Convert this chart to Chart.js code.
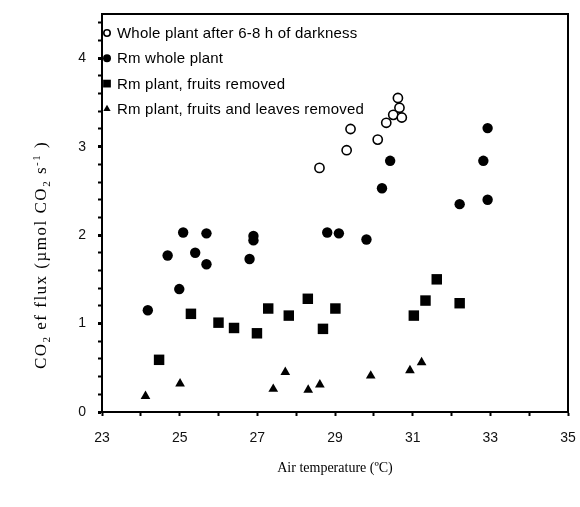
<!DOCTYPE html>
<html>
<head>
<meta charset="utf-8">
<script src="https://cdn.jsdelivr.net/npm/chart.js@4.4.1/dist/chart.umd.min.js"></script>
<style>
html,body{margin:0;padding:0;background:#fff;}
#wrap{width:580px;height:507px;}
</style>
</head>
<body>
<div id="wrap"><canvas id="c" width="580" height="507"></canvas></div>
<script>
// ---- data ----
const seriesLabels = [
  "Whole plant after 6-8 h of darkness",
  "Rm whole plant",
  "Rm plant, fruits removed",
  "Rm plant, fruits and leaves removed"
];
const darkX = [28.6, 29.3, 29.4, 30.1, 30.32, 30.5, 30.72, 30.66, 30.62];
const darkY = [2.76, 2.96, 3.20, 3.08, 3.27, 3.36, 3.33, 3.44, 3.55];

const wholeX = [24.18, 24.69, 24.99, 25.09, 25.40, 25.69, 25.69, 26.80, 26.90, 26.90, 28.80, 29.10, 29.81, 30.21, 30.42, 32.21, 32.82, 32.93, 32.93];
const wholeY = [1.15, 1.77, 1.39, 2.03, 1.80, 2.02, 1.67, 1.73, 1.94, 1.99, 2.03, 2.02, 1.95, 2.53, 2.84, 2.35, 2.84, 3.21, 2.40];

const fruitX = [24.47, 25.29, 26.00, 26.40, 26.99, 27.28, 27.81, 28.30, 28.69, 29.01, 31.03, 31.33, 31.62, 32.21];
const fruitY = [0.59, 1.11, 1.01, 0.95, 0.89, 1.17, 1.09, 1.28, 0.94, 1.17, 1.09, 1.26, 1.50, 1.23];

const leafX = [24.12, 25.01, 27.41, 27.72, 28.31, 28.61, 29.92, 30.93, 31.23];
const leafY = [0.18, 0.32, 0.26, 0.45, 0.25, 0.31, 0.41, 0.47, 0.56];

const xTickLabels = [23, 25, 27, 29, 31, 33, 35];
const yTickLabels = [0, 1, 2, 3, 4];

const xTitle = "Air temperature (ºC)";
// y title pieces: [text, mode]
const yTitleParts = [["CO", "n"], ["2", "sub"], [" ef flux (µmol CO", "n"], ["2", "sub"], [" s", "n"], ["-1", "sup"], [" )", "n"]];

function pts(xs, ys) { return xs.map((x, i) => ({ x: x, y: ys[i] })); }

const datasets = [
  { label: seriesLabels[0], data: pts(darkX, darkY), pointStyle: 'circle', pointRadius: 4.6, pointBorderWidth: 1.6,
    backgroundColor: '#fff', borderColor: '#000', legendRadius: 3.2 },
  { label: seriesLabels[1], data: pts(wholeX, wholeY), pointStyle: 'circle', pointRadius: 5.2, pointBorderWidth: 0,
    backgroundColor: '#000', borderColor: '#000', legendRadius: 4 },
  { label: seriesLabels[2], data: pts(fruitX, fruitY), pointStyle: 'rect', pointRadius: 7.4, pointBorderWidth: 0,
    backgroundColor: '#000', borderColor: '#000', legendRadius: 5.5 },
  { label: seriesLabels[3], data: pts(leafX, leafY), pointStyle: 'triangle', pointRadius: 5.6, pointBorderWidth: 0,
    backgroundColor: '#000', borderColor: '#000', legendRadius: 4.2 }
];
datasets.forEach(d => { d.showLine = false; d.pointHoverRadius = d.pointRadius; });

const isInt = v => Math.abs(v - Math.round(v)) < 1e-6;

const decor = {
  id: 'decor',
  afterDraw(chart) {
    const ctx = chart.ctx;
    const a = chart.chartArea;
    ctx.save();
    // frame top & right
    ctx.strokeStyle = '#000';
    ctx.lineWidth = 2;
    ctx.beginPath();
    ctx.moveTo(a.left, a.top);
    ctx.lineTo(a.right, a.top);
    ctx.lineTo(a.right, a.bottom);
    ctx.stroke();

    // legend
    const lx = 107, ly0 = 33, lstep = 25.3;
    ctx.font = '15px "Liberation Sans", Arial, sans-serif';
    ctx.textBaseline = 'middle';
    ctx.textAlign = 'left';
    chart.data.datasets.forEach((d, i) => {
      const y = ly0 + i * lstep;
      ctx.fillStyle = d.backgroundColor;
      ctx.strokeStyle = d.borderColor;
      ctx.lineWidth = d.pointBorderWidth;
      Chart.helpers.drawPoint(ctx, { pointStyle: d.pointStyle, radius: d.legendRadius, rotation: 0, borderWidth: d.pointBorderWidth }, lx, y);
      ctx.fillStyle = '#000';
      if ('letterSpacing' in ctx) ctx.letterSpacing = '0.2px';
      ctx.fillText(d.label, 117, y + 1);
      if ('letterSpacing' in ctx) ctx.letterSpacing = '0px';
    });

    // x title
    ctx.font = '14px "Liberation Serif", "Times New Roman", serif';
    ctx.textAlign = 'center';
    ctx.textBaseline = 'alphabetic';
    ctx.fillStyle = '#000';
    ctx.fillText(xTitle, (a.left + a.right) / 2, 472);

    // y title
    const fN = '17px "Liberation Serif", "Times New Roman", serif';
    const fS = '11px "Liberation Serif", "Times New Roman", serif';
    if ('letterSpacing' in ctx) ctx.letterSpacing = '1.5px';
    let total = 0;
    yTitleParts.forEach(p => { ctx.font = p[1] === 'n' ? fN : fS; total += ctx.measureText(p[0]).width; });
    ctx.translate(46, 255);
    ctx.rotate(-Math.PI / 2);
    ctx.textAlign = 'left';
    let x = -total / 2;
    yTitleParts.forEach(p => {
      ctx.font = p[1] === 'n' ? fN : fS;
      const dy = p[1] === 'sub' ? 4 : (p[1] === 'sup' ? -6 : 0);
      ctx.fillText(p[0], x, dy);
      x += ctx.measureText(p[0]).width;
    });
    ctx.restore();
  }
};

new Chart(document.getElementById('c'), {
  type: 'scatter',
  data: { datasets: datasets },
  plugins: [decor],
  options: {
    responsive: false,
    animation: false,
    devicePixelRatio: 1,
    layout: { padding: { left: 0, right: 12, top: 14, bottom: 0 } },
    plugins: { legend: { display: false }, tooltip: { enabled: false } },
    scales: {
      x: {
        type: 'linear', min: 23, max: 35,
        afterFit(s) { s.height = 95; s.paddingRight = 0; s.paddingLeft = 0; },
        border: { display: true, color: '#000', width: 2 },
        grid: { drawOnChartArea: false, drawTicks: true, tickLength: 4, tickWidth: 2, tickColor: '#000' },
        ticks: {
          stepSize: 1, autoSkip: false, maxRotation: 0, padding: 14, color: '#111',
          font: { family: '"Liberation Sans", Arial, sans-serif', size: 14 },
          callback: v => (xTickLabels.includes(Math.round(v)) && isInt(v)) ? String(Math.round(v)) : ''
        }
      },
      y: {
        type: 'linear', min: 0, max: 4.5,
        afterFit(s) { s.width = 102; s.paddingTop = 0; s.paddingBottom = 0; },
        border: { display: true, color: '#000', width: 2 },
        grid: { drawOnChartArea: false, drawTicks: true, tickLength: 4,
          tickWidth: c => isInt(c.tick.value) ? 3 : 2, tickColor: '#000' },
        ticks: {
          stepSize: 0.2, includeBounds: false, autoSkip: false, padding: 12, color: '#111',
          font: { family: '"Liberation Sans", Arial, sans-serif', size: 14 },
          callback: v => (isInt(v) && yTickLabels.includes(Math.round(v))) ? String(Math.round(v)) : ''
        }
      }
    }
  }
});
</script>
</body>
</html>
